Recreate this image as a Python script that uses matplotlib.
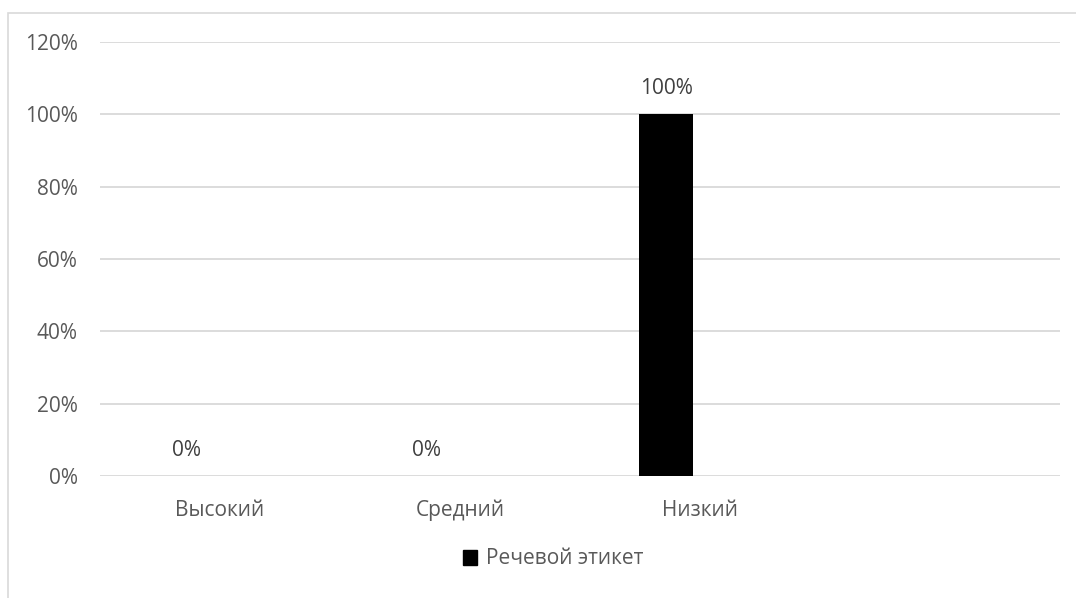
import matplotlib.pyplot as plt
from matplotlib.patches import Rectangle

plt.rcParams['font.family'] = ['Open Sans', 'DejaVu Sans']

# data
categories = ['Высокий', 'Средний', 'Низкий', '']
values = [0, 0, 100, None]
series_name = 'Речевой этикет'
yticks = [0, 20, 40, 60, 80, 100, 120]

fig = plt.figure(figsize=(10.76, 5.98), dpi=100)
ax = fig.add_axes([100 / 1076, 1 - 476 / 598, 960 / 1076, 434 / 598])

# chart area border (cut off at right and bottom like the reference)
fig.patches.append(Rectangle((7.5 / 1076, -0.2), 1.2, 1 - 12.5 / 598 + 0.2,
                             transform=fig.transFigure, fill=False,
                             edgecolor='#d9d9d9', lw=1.2, zorder=0))

x = list(range(len(categories)))
offset = 0.14
width = 0.225
for xi, v in zip(x, values):
    if v is None:
        continue
    ax.bar(xi - offset, v, width=width, color='black', zorder=3)
    ax.annotate(f'{v}%', (xi - offset, v), xytext=(0, 11), textcoords='offset points',
                ha='center', va='bottom', fontsize=15, color='#404040')

ax.set_xlim(-0.5, len(categories) - 0.5)
ax.set_ylim(0, 120)
ax.set_yticks(yticks)
ax.set_yticklabels([f'{t}%' for t in yticks])
ax.set_xticks(x)
ax.set_xticklabels(categories)
ax.tick_params(axis='both', length=0, labelsize=15, colors='#595959')
ax.tick_params(axis='y', pad=16)
ax.tick_params(axis='x', pad=17)
ax.grid(axis='y', color='#d9d9d9', lw=1.3, zorder=0)
for s in ax.spines.values():
    s.set_visible(False)

handle = Rectangle((0, 0), 1, 1, color='black')
fig.legend([handle], [series_name], loc='center', bbox_to_anchor=(553 / 1076, 1 - 559 / 598),
           frameon=False, fontsize=15, labelcolor='#595959', handlelength=0.7,
           handleheight=0.7, handletextpad=0.4)

fig.savefig('out.png', dpi=100)
